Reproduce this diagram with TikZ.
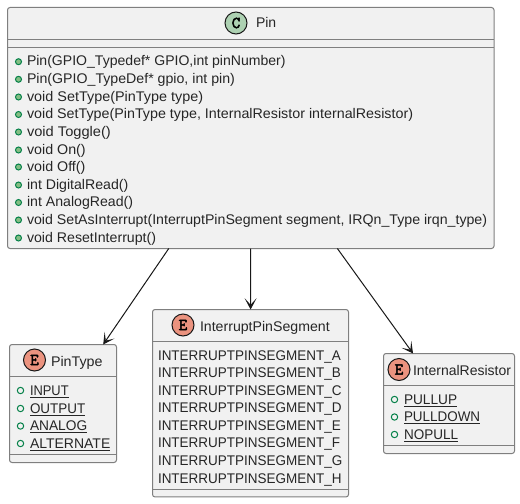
\documentclass[tikz,border=0pt]{standalone}
\usepackage{graphicx}
\usepackage{fontspec}
\setmainfont{Liberation Sans}
\newfontfamily\badgefont[FakeBold=3]{Latin Modern Mono}
\usetikzlibrary{arrows.meta}
\definecolor{boxfill}{HTML}{F1F1F1}
\definecolor{boxline}{HTML}{7F7F7F}
\definecolor{ink}{HTML}{181818}
\definecolor{cfill}{HTML}{ADD1B2}
\definecolor{efill}{HTML}{EB937F}
\definecolor{pubfill}{HTML}{84BE84}
\definecolor{publine}{HTML}{038048}
\newcommand{\sx}[2]{\scalebox{#1}[1]{#2}}
\tikzset{
  x=0.75pt,y=-0.75pt,
  box/.style={draw=boxline,fill=boxfill,line width=0.75pt,rounded corners=1.9pt,inner sep=0pt,outer sep=0pt,anchor=north west},
  rule/.style={draw=boxline,line width=0.75pt},
  txt/.style={anchor=base west,inner sep=0pt,outer sep=0pt,font=\fontsize{10.5pt}{12pt}\selectfont,text=black!85},
  badge/.style={circle,draw=ink,line width=0.75pt,minimum size=16.5pt,inner sep=0pt,outer sep=0pt,font=\badgefont\fontsize{12.5pt}{12.5pt}\selectfont,text=black},
  pub/.style={circle,draw=publine,fill=pubfill,line width=0.75pt,minimum size=4.5pt,inner sep=0pt},
  pubo/.style={circle,draw=publine,fill=boxfill,line width=0.75pt,minimum size=4.8pt,inner sep=0pt},
  link/.style={draw=ink,line width=0.75pt,-{Stealth[length=8.5pt,width=9pt,inset=5pt]}}
}
\begin{document}
\begin{tikzpicture}
\useasboundingbox (0,0) rectangle (520,503);
% boxes
\node[box,minimum width=364.9pt,minimum height=180.75pt] (pin) at (7.5,7.5) {};
\node[box,minimum width=80.25pt,minimum height=88.5pt] (pintype) at (9.5,344.5) {};
\node[box,minimum width=147pt,minimum height=140.6pt] (segment) at (152.5,309.5) {};
\node[box,minimum width=98.25pt,minimum height=75pt] (resistor) at (383.5,353.5) {};
% compartments
\draw[rule] (7.5,39.5) -- (494,39.5) (7.5,47.5) -- (494,47.5);
\draw[rule] (9.5,376.5) -- (116.5,376.5) (9.5,454.5) -- (116.5,454.5);
\draw[rule] (152.5,341.5) -- (348.5,341.5) (152.5,489) -- (348.5,489);
\draw[rule] (383.5,385.5) -- (514.5,385.5) (383.5,445.5) -- (514.5,445.5);
% badges and titles
\node[badge,fill=cfill] (bc) at (236,23) {C};
\node[txt] (tpin) at (256,28) {Pin};
\node[badge,fill=efill] (be1) at (34.5,360) {E};
\node[txt] (tpt) at (51,366) {\sx{1.02}{PinType}};
\node[badge,fill=efill] (be2) at (183,325) {E};
\node[txt] (tseg) at (200,331) {\sx{1.01}{InterruptPinSegment}};
\node[badge,fill=efill] (be3) at (399,369.5) {E};
\node[txt] (tres) at (413,375) {InternalResistor};
% Pin members
\foreach \i/\yy/\s/\t in {1/65.7/1.004/{Pin(GPIO\_Typedef* GPIO,int pinNumber)},
  2/83.3/1.012/{Pin(GPIO\_TypeDef* gpio, int pin)},
  3/101/1.029/{void SetType(PinType type)},
  4/118.5/1.021/{void SetType(PinType type, InternalResistor internalResistor)},
  5/136/1.046/{void Toggle()},
  6/154/1.02/{void On()},
  7/171/1.02/{void Off()},
  8/189/1.01/{int DigitalRead()},
  9/206.5/1.01/{int AnalogRead()},
  10/224/1.0125/{void SetAsInterrupt(InterruptPinSegment segment, IRQn\_Type irqn\_type)},
  11/242/1.012/{void ResetInterrupt()}}{
  \node[pub] (pb\i) at (18.5,\yy-4) {};
  \node[txt] (pm\i) at (27,\yy) {\sx{\s}{\t}};
}
% PinType members
\foreach \i/\yy/\s/\t in {1/395/0.92/INPUT,2/413/0.96/OUTPUT,3/430.5/0.98/ANALOG,4/448/1.0/ALTERNATE}{
  \node[pubo] (tb\i) at (20.5,\yy-4.5) {};
  \node[txt] (tm\i) at (30,\yy) {\sx{\s}{\underline{\t}}};
}
% InterruptPinSegment members
\foreach \i/\yy/\t in {1/360/A,2/377/B,3/395/C,4/412.5/D,5/430/E,6/447.7/F,7/465/G,8/483/H}{
  \node[txt] (sm\i) at (158,\yy) {\sx{0.963}{INTERRUPTPINSEGMENT\_\t}};
}
% InternalResistor members
\foreach \i/\yy/\s/\t in {1/404/0.975/PULLUP,2/421.5/0.96/PULLDOWN,3/439/0.965/NOPULL}{
  \node[pubo] (rb\i) at (394.5,\yy-4.5) {};
  \node[txt] (rm\i) at (404,\yy) {\sx{\s}{\underline{\t}}};
}
% connectors
\draw[link] (pin) -- (pintype);
\draw[link] (pin) -- (segment);
\draw[link] (pin) -- (resistor);
\end{tikzpicture}
\end{document}
